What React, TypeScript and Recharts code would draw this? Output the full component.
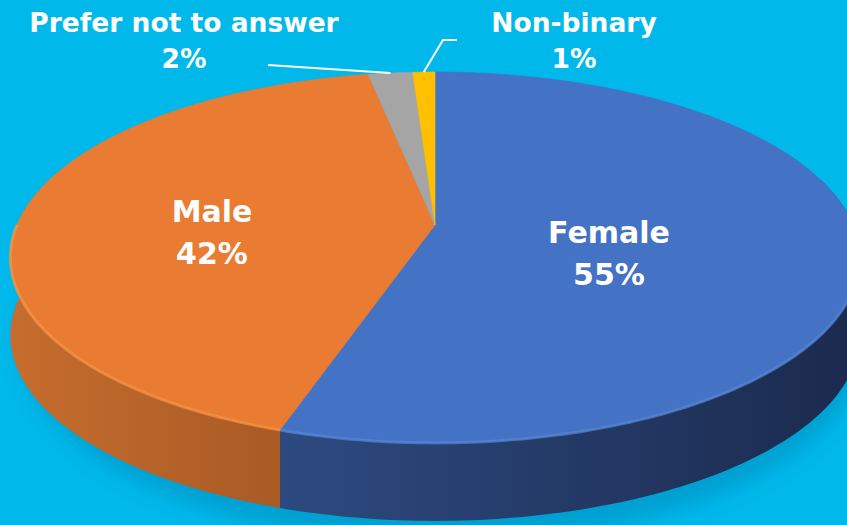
import { PieChart, Pie, Cell } from 'recharts';

const categories = ['Female', 'Male', 'Prefer not to answer', 'Non-binary'];
const shares = [55, 42, 2, 1];
const topColors = ['#4472C4', '#E97C32', '#A5A5A5', '#FFC000'];
const sideLight = ['#2D4A80', '#C66D2E', '#8C8C8C', '#C99A00'];
const sideDark = ['#1B2A4D', '#A95A25', '#707070', '#A67F00'];
const rimColors = ['#5A86D6', '#F99447', '#BBBBBB', '#FFD040'];

const data = categories.map((name, i) => ({ name, value: shares[i] }));

const W = 847;
const H = 525;
const FLAT = 0.43; // vertical squash of the disc
const PERSP = 0.175; // far side shrinks
const DEPTH = 78;

// project a point of the flat disc onto the screen
const proj = (cx: number, cy: number, R: number, deg: number, r = 1) => {
  const a = (deg * Math.PI) / 180;
  const X = r * Math.cos(a);
  const Z = r * Math.sin(a);
  const s = 1 / (1 + PERSP * Z);
  return [cx + R * X * s, cy - R * FLAT * Z * s];
};

const arcPoints = (cx: number, cy: number, R: number, from: number, to: number) => {
  const pts: number[][] = [];
  const n = Math.max(2, Math.ceil(Math.abs(to - from)));
  for (let i = 0; i <= n; i++) pts.push(proj(cx, cy, R, from + ((to - from) * i) / n));
  return pts;
};

const toPath = (pts: number[][]) => pts.map((p, i) => `${i ? 'L' : 'M'}${p[0].toFixed(1)},${p[1].toFixed(1)}`).join(' ');

function Slice3D(props: any) {
  const { cx, cy, outerRadius, startAngle, endAngle, index } = props;
  const lo = Math.min(startAngle, endAngle);
  const hi = Math.max(startAngle, endAngle);
  const bands: any[] = [];
  const rims: any[] = [];
  for (const k of [-360, 0, 360]) {
    const a = Math.max(lo, -195 + k);
    const b = Math.min(hi, 15 + k);
    if (b > a) {
      const rim = arcPoints(cx, cy, outerRadius, a, b);
      const low = rim.map((p) => [p[0], p[1] + DEPTH]).reverse();
      bands.push(toPath([...rim, ...low]) + ' Z');
      const fa = Math.max(lo, -180 + k);
      const fb = Math.min(hi, 0 + k);
      if (fb > fa) rims.push(toPath(arcPoints(cx, cy, outerRadius, fa, fb)));
    }
  }
  const top = toPath([[cx, cy], ...arcPoints(cx, cy, outerRadius, startAngle, endAngle)]) + ' Z';
  const gid = `side-${index}`;
  return (
    <g>
      <defs>
        <linearGradient id={gid} x1="0" y1="0" x2="1" y2="0">
          <stop offset="0%" stopColor={sideLight[index]} />
          <stop offset="100%" stopColor={sideDark[index]} />
        </linearGradient>
        {index === 0 && (
          <filter id="pie-shadow" x="-20%" y="-20%" width="140%" height="140%">
            <feGaussianBlur stdDeviation="10" />
          </filter>
        )}
      </defs>
      {index === 0 && (
        <ellipse
          cx={cx + 8}
          cy={cy + DEPTH + 40}
          rx={outerRadius + 4}
          ry={outerRadius * FLAT + 20}
          fill="#00628F"
          fillOpacity={0.28}
          filter="url(#pie-shadow)"
        />
      )}
      {bands.map((d, i) => (
        <path key={`b${i}`} d={d} fill={`url(#${gid})`} stroke="none" />
      ))}
      <path d={top} fill={topColors[index]} stroke={topColors[index]} strokeWidth={0.6} />
      {rims.map((d, i) => (
        <path key={`r${i}`} d={d} fill="none" stroke={rimColors[index]} strokeWidth={3} strokeOpacity={0.7} />
      ))}
    </g>
  );
}

// label centres and leader line bends
const labelPos = [
  { x: 609, y: 232, size: 30, lh: 42 },
  { x: 212, y: 211, size: 30, lh: 42 },
  { x: 184, y: 22, size: 26.5, lh: 36 },
  { x: 574, y: 22, size: 26.5, lh: 36 },
];
const leaders: (number[][] | null)[] = [null, null, [[268, 65]], [[443, 40], [457, 40]]];

const renderLabel = (p: any) => {
  const { cx, cy, outerRadius, midAngle, index, name, percent } = p;
  const pos = labelPos[index];
  const lead = leaders[index];
  const start = proj(cx, cy, outerRadius, midAngle);
  return (
    <g key={`lab-${index}`}>
      {lead && (
        <path d={toPath([start, ...lead])} fill="none" stroke="#FFFFFF" strokeWidth={2} />
      )}
      <text
        x={pos.x}
        y={pos.y}
        textAnchor="middle"
        dominantBaseline="central"
        fill="#FFFFFF"
        fontFamily="'DejaVu Sans', sans-serif"
        fontWeight={700}
        fontSize={pos.size}
      >
        <tspan x={pos.x} dy={0}>{name}</tspan>
        <tspan x={pos.x} dy={pos.lh}>{`${Math.round(percent * 100)}%`}</tspan>
      </text>
    </g>
  );
};

export default function App() {
  return (
    <div style={{ position: 'fixed', left: 0, top: 0, width: W, height: H, background: '#00B8EA', overflow: 'hidden' }}>
      <PieChart width={W} height={H} margin={{ top: 0, right: 0, bottom: 0, left: 0 }}>
        <Pie
          data={data}
          dataKey="value"
          nameKey="name"
          cx={435}
          cy={225}
          outerRadius={418}
          startAngle={90}
          endAngle={-270}
          stroke="none"
          shape={Slice3D}
          label={renderLabel}
          labelLine={false}
          isAnimationActive={false}
        >
          {data.map((d, i) => (
            <Cell key={d.name} fill={topColors[i]} />
          ))}
        </Pie>
      </PieChart>
    </div>
  );
}
